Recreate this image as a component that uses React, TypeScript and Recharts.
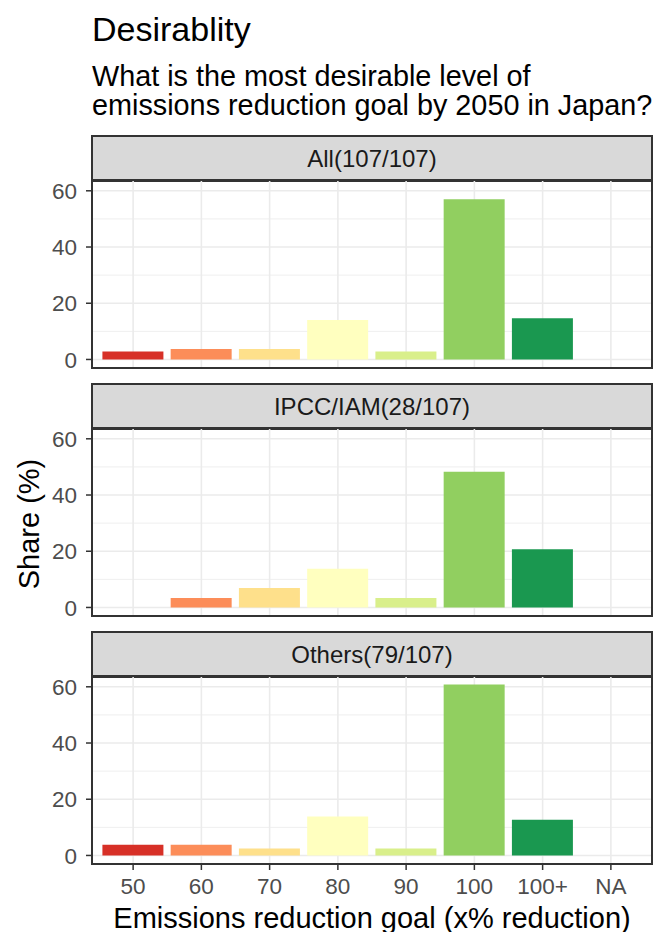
import React from "react";
import { Bar, BarChart, CartesianGrid, Cell, XAxis, YAxis } from "recharts";

// reduction goal categories and share (%) per respondent group
const categories = ["50", "60", "70", "80", "90", "100", "100+", "NA"];
const allShare = [2.8, 3.7, 3.7, 14.0, 2.8, 57.0, 14.7, null];
const ipccShare = [null, 3.4, 6.9, 13.8, 3.4, 48.3, 20.7, null];
const othersShare = [3.8, 3.8, 2.5, 13.9, 2.5, 60.8, 12.7, null];
const barColors = ["#D73027", "#FC8D59", "#FEE08B", "#FFFFBF", "#D9EF8B", "#91CF60", "#1A9850", "#999999"];
const yTicks = [0, 20, 40, 60];
const yMinor = [10, 30, 50];
const panelTitles = ["All(107/107)", "IPCC/IAM(28/107)", "Others(79/107)"];

const FONT = '"Liberation Sans", Arial, Helvetica, sans-serif';
const PLOT_LEFT = 92;
const PLOT_RIGHT = 652;
const PLOT_H = 188;
const MAX = 60.8;
const EXP = MAX * 0.05;
const TICK_FS = 22.5;

const noTick = () => <g />;

const XTick = ({ x, y, payload }: any) => (
  <text x={x} y={y} dy="0.71em" textAnchor="middle" fontSize={TICK_FS} fontFamily={FONT} fill="#4D4D4D">
    {payload.value}
  </text>
);

const YTick = ({ x, y, payload }: any) => (
  <text x={x} y={y} dy="0.36em" textAnchor="end" fontSize={TICK_FS} fontFamily={FONT} fill="#4D4D4D">
    {payload.value}
  </text>
);

function Panel({ values, title, stripTop, showX }: any) {
  const data = categories.map((c, i) => ({ cat: c, share: values[i] }));
  const plotTop = stripTop + 45;
  const xH = showX ? 40 : 0;
  const mTop = 10;
  const mBottom = showX ? 0 : 10;
  return (
    <>
      <div
        style={{
          position: "absolute",
          left: PLOT_LEFT - 1,
          top: stripTop,
          width: PLOT_RIGHT - PLOT_LEFT + 2,
          height: 47,
          boxSizing: "border-box",
          background: "#D9D9D9",
          border: "2px solid #333333",
          display: "flex",
          alignItems: "center",
          justifyContent: "center",
          fontFamily: FONT,
          fontSize: 24,
          color: "#1A1A1A",
        }}
      >
        {title}
      </div>
      <div style={{ position: "absolute", left: 0, top: plotTop - mTop }}>
        <BarChart
          width={663}
          height={mTop + PLOT_H + xH + mBottom}
          data={data}
          margin={{ top: mTop, right: 663 - PLOT_RIGHT, bottom: mBottom, left: 0 }}
          barCategoryGap="5%"
        >
          <CartesianGrid stroke="#EBEBEB" strokeWidth={0.8} vertical={false} horizontalValues={yMinor} />
          <CartesianGrid stroke="#EBEBEB" strokeWidth={1.6} horizontalValues={yTicks} />
          <XAxis
            dataKey="cat"
            type="category"
            padding={{ left: 7, right: 7 }}
            height={xH}
            axisLine={false}
            tick={showX ? <XTick /> : noTick}
            tickLine={showX ? { stroke: "#333333", strokeWidth: 1.5 } : false}
            tickSize={6}
            tickMargin={8}
          />
          <YAxis
            width={PLOT_LEFT}
            domain={[-EXP, MAX + EXP]}
            allowDataOverflow
            ticks={yTicks}
            axisLine={false}
            tick={<YTick />}
            tickLine={{ stroke: "#333333", strokeWidth: 1.5 }}
            tickSize={6}
            tickMargin={9}
          />
          <Bar dataKey="share" isAnimationActive={false}>
            {data.map((d, i) => (
              <Cell key={d.cat} fill={barColors[i]} />
            ))}
          </Bar>
        </BarChart>
      </div>
      <div
        style={{
          position: "absolute",
          left: PLOT_LEFT - 1,
          top: plotTop - 1,
          width: PLOT_RIGHT - PLOT_LEFT + 2,
          height: PLOT_H + 2,
          boxSizing: "border-box",
          border: "2px solid #333333",
          pointerEvents: "none",
        }}
      />
    </>
  );
}

export default function App() {
  return (
    <div style={{ position: "absolute", left: 0, top: 0, width: 663, height: 932, background: "#fff", overflow: "hidden" }}>
      <svg width={663} height={932} style={{ position: "absolute", left: 0, top: 0 }}>
        <g fontFamily={FONT} fill="#000">
          <text x={92} y={41} fontSize={34}>Desirablity</text>
          <text x={92} y={86} fontSize={28.8}>What is the most desirable level of</text>
          <text x={92} y={115} fontSize={28.8}>emissions reduction goal by 2050 in Japan?</text>
          <text x={372} y={928} fontSize={29} textAnchor="middle">Emissions reduction goal (x% reduction)</text>
          <text x={39} y={524} fontSize={29} textAnchor="middle" transform="rotate(-90 39 524)">Share (%)</text>
        </g>
      </svg>
      <Panel values={allShare} title={panelTitles[0]} stripTop={135} showX={false} />
      <Panel values={ipccShare} title={panelTitles[1]} stripTop={383} showX={false} />
      <Panel values={othersShare} title={panelTitles[2]} stripTop={631} showX={true} />
    </div>
  );
}
